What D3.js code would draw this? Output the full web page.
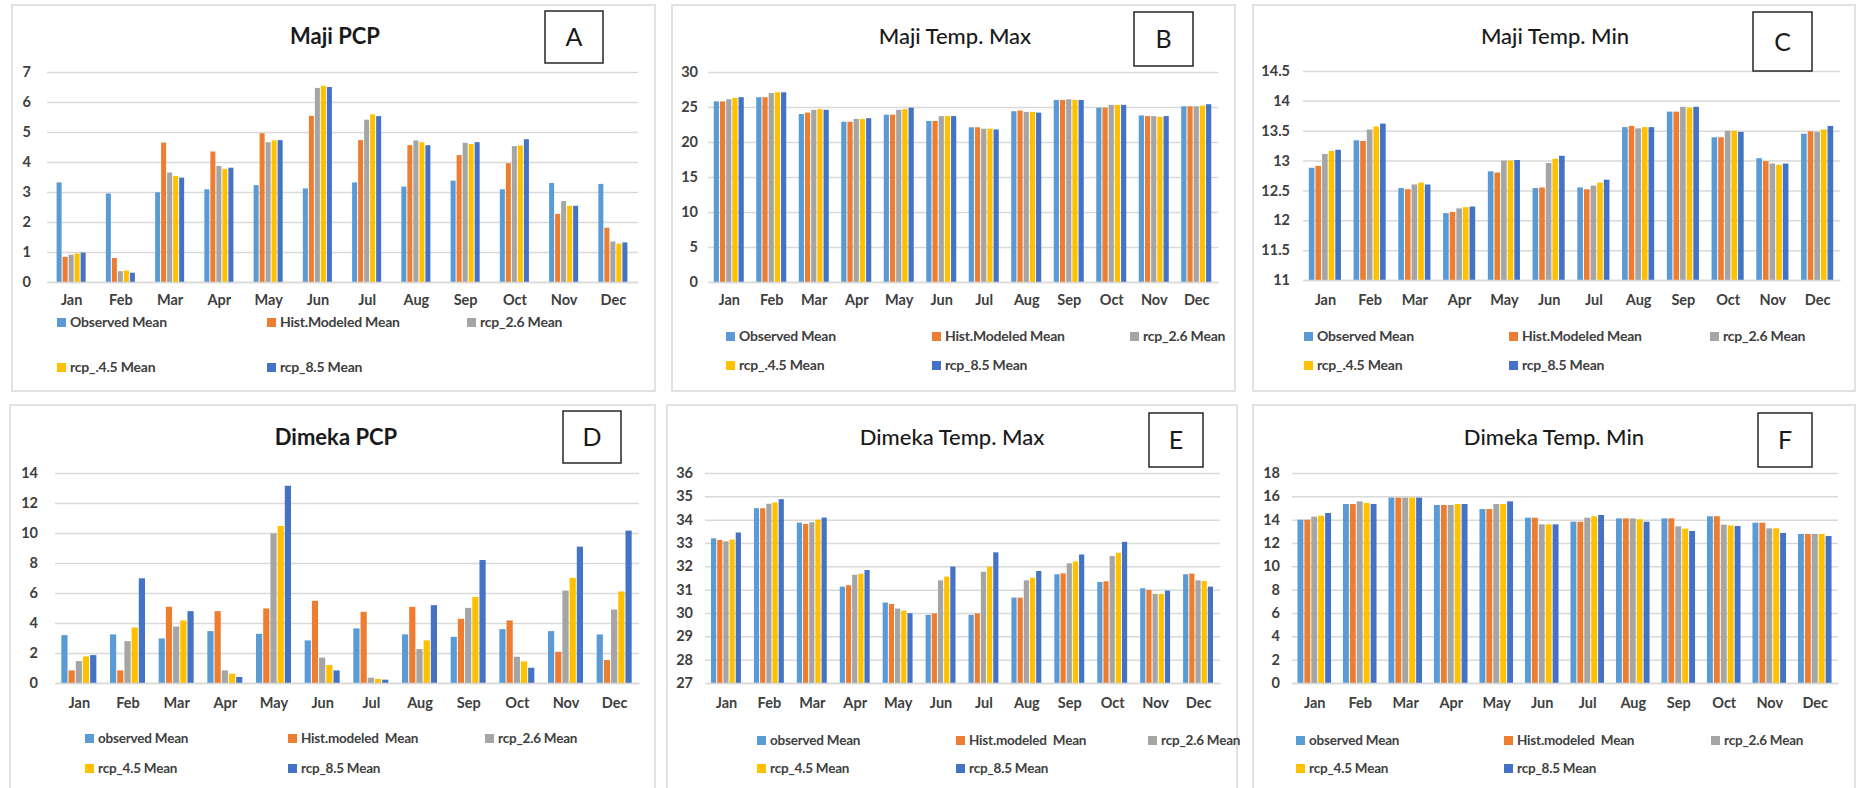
<!DOCTYPE html>
<html>
<head>
<meta charset="utf-8">
<script src="https://cdn.jsdelivr.net/npm/d3@7"></script>
<style>
  body { margin: 0; background: #fff; }
  svg { display: block; font-family: Lato, "Open Sans", sans-serif; }
</style>
</head>
<body>
<svg width="1856" height="788"></svg>
<script>
// month categories and series names
var months = ["Jan", "Feb", "Mar", "Apr", "May", "Jun", "Jul", "Aug", "Sep", "Oct", "Nov", "Dec"];
var namesTop = ["Observed Mean", "Hist.Modeled Mean", "rcp_2.6 Mean", "rcp_.4.5 Mean", "rcp_8.5 Mean"];
var namesBottom = ["observed Mean", "Hist.modeled  Mean", "rcp_2.6 Mean", "rcp_4.5 Mean", "rcp_8.5 Mean"];
var colors = ["#5b9bd5", "#ed7d31", "#a5a5a5", "#ffc000", "#4472c4"];

// rows: observed, hist, rcp2.6, rcp4.5, rcp8.5
var majiPcp = [
  [3.32, 2.95, 2.99, 3.09, 3.23, 3.12, 3.32, 3.18, 3.38, 3.09, 3.30, 3.27],
  [0.84, 0.80, 4.65, 4.35, 4.96, 5.54, 4.73, 4.56, 4.23, 3.96, 2.27, 1.81],
  [0.91, 0.36, 3.65, 3.87, 4.66, 6.47, 5.41, 4.72, 4.64, 4.53, 2.70, 1.35],
  [0.95, 0.38, 3.53, 3.77, 4.72, 6.54, 5.59, 4.66, 4.60, 4.55, 2.54, 1.28],
  [0.98, 0.31, 3.48, 3.81, 4.73, 6.50, 5.53, 4.56, 4.66, 4.76, 2.54, 1.32]
];
var majiTmax = [
  [25.8, 26.4, 24.0, 22.9, 23.9, 23.0, 22.1, 24.4, 26.0, 24.9, 23.8, 25.1],
  [25.8, 26.4, 24.2, 22.9, 23.9, 23.0, 22.1, 24.5, 26.0, 24.9, 23.7, 25.1],
  [26.1, 27.0, 24.6, 23.3, 24.6, 23.7, 21.9, 24.3, 26.1, 25.3, 23.7, 25.1],
  [26.3, 27.1, 24.7, 23.3, 24.7, 23.7, 21.9, 24.3, 26.0, 25.3, 23.6, 25.2],
  [26.4, 27.1, 24.6, 23.4, 24.9, 23.7, 21.8, 24.2, 26.0, 25.3, 23.7, 25.4]
];
var majiTmin = [
  [12.88, 13.34, 12.54, 12.12, 12.82, 12.54, 12.55, 13.56, 13.82, 13.39, 13.04, 13.45],
  [12.91, 13.33, 12.52, 12.14, 12.80, 12.55, 12.52, 13.58, 13.82, 13.39, 12.99, 13.49],
  [13.11, 13.52, 12.60, 12.20, 13.00, 12.96, 12.58, 13.54, 13.90, 13.50, 12.95, 13.48],
  [13.16, 13.57, 12.63, 12.22, 13.00, 13.03, 12.63, 13.56, 13.89, 13.50, 12.93, 13.52],
  [13.18, 13.62, 12.60, 12.23, 13.01, 13.08, 12.68, 13.56, 13.90, 13.48, 12.95, 13.58]
];
var dimekaPcp = [
  [3.19, 3.24, 2.97, 3.46, 3.28, 2.84, 3.64, 3.24, 3.08, 3.59, 3.46, 3.24],
  [0.84, 0.84, 5.08, 4.79, 4.97, 5.48, 4.75, 5.08, 4.28, 4.17, 2.08, 1.53],
  [1.46, 2.79, 3.77, 0.84, 9.98, 1.69, 0.35, 2.26, 5.01, 1.75, 6.16, 4.90],
  [1.77, 3.70, 4.17, 0.62, 10.47, 1.20, 0.27, 2.84, 5.74, 1.44, 7.01, 6.10],
  [1.86, 6.98, 4.79, 0.40, 13.15, 0.84, 0.22, 5.19, 8.20, 1.02, 9.09, 10.16]
];
var dimekaTmax = [
  [33.20, 34.49, 33.87, 31.13, 30.45, 29.92, 29.92, 30.66, 31.66, 31.33, 31.06, 31.66],
  [33.13, 34.49, 33.82, 31.19, 30.39, 29.98, 29.98, 30.66, 31.70, 31.36, 30.99, 31.69],
  [33.07, 34.68, 33.89, 31.64, 30.19, 31.40, 31.77, 31.40, 32.13, 32.44, 30.82, 31.40],
  [33.15, 34.74, 34.00, 31.68, 30.10, 31.56, 31.98, 31.51, 32.21, 32.58, 30.82, 31.37],
  [33.45, 34.88, 34.09, 31.84, 29.99, 31.99, 32.60, 31.80, 32.51, 33.05, 30.96, 31.13]
];
var dimekaTmin = [
  [14.00, 15.34, 15.89, 15.26, 14.91, 14.17, 13.83, 14.11, 14.11, 14.29, 13.74, 12.77],
  [14.00, 15.34, 15.89, 15.26, 14.91, 14.17, 13.83, 14.11, 14.11, 14.29, 13.74, 12.77],
  [14.26, 15.57, 15.89, 15.26, 15.34, 13.60, 14.17, 14.11, 13.43, 13.57, 13.26, 12.77],
  [14.34, 15.43, 15.89, 15.34, 15.34, 13.60, 14.29, 14.03, 13.23, 13.51, 13.26, 12.77],
  [14.57, 15.34, 15.89, 15.34, 15.57, 13.60, 14.40, 13.83, 13.03, 13.46, 12.86, 12.60]
];

var majiPcpTicks = [0, 1, 2, 3, 4, 5, 6, 7];
var majiTmaxTicks = [0, 5, 10, 15, 20, 25, 30];
var majiTminTicks = [11, 11.5, 12, 12.5, 13, 13.5, 14, 14.5];
var dimekaPcpTicks = [0, 2, 4, 6, 8, 10, 12, 14];
var dimekaTmaxTicks = [27, 28, 29, 30, 31, 32, 33, 34, 35, 36];
var dimekaTminTicks = [0, 2, 4, 6, 8, 10, 12, 14, 16, 18];

var svg = d3.select("svg");

var panels = [
  { tag: "A", title: "Maji PCP", bold: true, data: majiPcp, ticks: majiPcpTicks, names: namesTop,
    frame: [12, 5, 643, 386], plot: [47, 638, 72, 282], inner: 0.39, tickGap: 16,
    titleX: 335, titleY: 44, box: [545, 11, 58, 52], monthY: 307, legFont: 14,
    legX: [57, 267, 467], legY: [323, 368] },
  { tag: "B", title: "Maji Temp. Max", bold: false, data: majiTmax, ticks: majiTmaxTicks, names: namesTop,
    frame: [672, 5, 563, 386], plot: [708, 1218, 72, 282], inner: 0.27, tickGap: 10,
    titleX: 955, titleY: 44, box: [1134, 12, 59, 54], monthY: 307, legFont: 14,
    legX: [726, 932, 1130], legY: [337, 366] },
  { tag: "C", title: "Maji Temp. Min", bold: false, data: majiTmin, ticks: majiTminTicks, names: namesTop,
    frame: [1253, 5, 602, 386], plot: [1303, 1840, 71, 280], inner: 0.26, tickGap: 13,
    titleX: 1555, titleY: 44, box: [1753, 12, 59, 59], monthY: 307, legFont: 14,
    legX: [1304, 1509, 1710], legY: [337, 366] },
  { tag: "D", title: "Dimeka PCP", bold: true, data: dimekaPcp, ticks: dimekaPcpTicks, names: namesBottom,
    frame: [10, 405, 645, 390], plot: [55, 639, 473, 683], inner: 0.26, tickGap: 17,
    titleX: 336, titleY: 445, box: [563, 411, 58, 52], monthY: 710, legFont: 13.5,
    legX: [85, 288, 485], legY: [739, 769] },
  { tag: "E", title: "Dimeka Temp. Max", bold: false, data: dimekaTmax, ticks: dimekaTmaxTicks, names: namesBottom,
    frame: [667, 405, 570, 390], plot: [705, 1220, 473, 683], inner: 0.28, tickGap: 12,
    titleX: 952, titleY: 445, box: [1149, 413, 54, 54], monthY: 710, legFont: 13.5,
    legX: [757, 956, 1148], legY: [741, 769] },
  { tag: "F", title: "Dimeka Temp. Min", bold: false, data: dimekaTmin, ticks: dimekaTminTicks, names: namesBottom,
    frame: [1253, 405, 602, 390], plot: [1292, 1838, 473, 683], inner: 0.24, tickGap: 12,
    titleX: 1554, titleY: 445, box: [1758, 413, 54, 54], monthY: 710, legFont: 13.5,
    legX: [1296, 1504, 1711], legY: [741, 769] }
];

panels.forEach(drawPanel);

function drawPanel(p) {
    var g = svg.append("g");

    g.append("rect")
        .attr("x", p.frame[0]).attr("y", p.frame[1])
        .attr("width", p.frame[2]).attr("height", p.frame[3])
        .attr("fill", "#fff").attr("stroke", "#d9d9d9").attr("stroke-width", 1.5);

    var x = d3.scaleBand().domain(months).range([p.plot[0], p.plot[1]]).paddingInner(p.inner).paddingOuter(p.inner / 2);
    var x1 = d3.scaleBand().domain(d3.range(5)).range([0, x.bandwidth()]);
    var y = d3.scaleLinear()
        .domain([p.ticks[0], p.ticks[p.ticks.length - 1]])
        .range([p.plot[3], p.plot[2]]);

    // gridlines + y labels
    var yAxis = d3.axisLeft(y).tickValues(p.ticks).tickFormat(d3.format("~g"))
        .tickSize(-(p.plot[1] - p.plot[0])).tickPadding(p.tickGap);
    var ya = g.append("g")
        .attr("transform", "translate(" + p.plot[0] + ",0)")
        .call(yAxis);
    ya.select(".domain").remove();
    ya.selectAll(".tick line").attr("stroke", "#d9d9d9").attr("stroke-width", 1.5);
    ya.selectAll(".tick text")
        .attr("fill", "#404040").attr("font-size", 14.5).attr("font-weight", 700)
        .attr("font-family", "Lato, sans-serif");

    // bars
    p.data.forEach(function(series, si) {
        g.selectAll(".bar" + si)
            .data(series)
            .enter().append("rect")
            .attr("x", function(d, i) { return x(months[i]) + x1(si); })
            .attr("y", function(d) { return y(d); })
            .attr("width", Math.max(1, x1.bandwidth() - 1))
            .attr("height", function(d) { return p.plot[3] - y(d); })
            .attr("fill", colors[si]);
    });

    // month labels
    var xa = g.append("g")
        .attr("transform", "translate(0," + p.plot[3] + ")")
        .call(d3.axisBottom(x).tickSize(0).tickPadding(p.monthY - p.plot[3] - 12));
    xa.select(".domain").attr("stroke", "#d9d9d9").attr("stroke-width", 1.5);
    xa.selectAll(".tick text")
        .attr("fill", "#404040").attr("font-size", 14.5).attr("font-weight", 700)
        .attr("font-family", "Lato, sans-serif");

    // title
    g.append("text")
        .attr("x", p.titleX).attr("y", p.titleY)
        .attr("text-anchor", "middle")
        .attr("font-size", 22)
        .attr("font-weight", p.bold ? 700 : 500)
        .attr("fill", "#1a1a1a")
        .text(p.title);

    // panel letter box
    g.append("rect")
        .attr("x", p.box[0]).attr("y", p.box[1])
        .attr("width", p.box[2]).attr("height", p.box[3])
        .attr("fill", "#fff").attr("stroke", "#262626").attr("stroke-width", 1.5);
    g.append("text")
        .attr("x", p.box[0] + p.box[2] / 2).attr("y", p.box[1] + p.box[3] / 2 + 9)
        .attr("text-anchor", "middle")
        .attr("font-size", 25)
        .attr("fill", "#1a1a1a")
        .text(p.tag);

    // legend, 3 per row
    p.names.forEach(function(name, i) {
        var lx = p.legX[i % 3], ly = p.legY[Math.floor(i / 3)];
        g.append("rect")
            .attr("x", lx).attr("y", ly - 5)
            .attr("width", 9).attr("height", 9)
            .attr("fill", colors[i]);
        g.append("text")
            .attr("x", lx + 13).attr("y", ly + 4)
            .attr("font-size", p.legFont).attr("font-weight", 700)
            .attr("fill", "#404040")
            .attr("letter-spacing", -0.2)
            .style("white-space", "pre")
            .text(name);
    });
}
</script>
</body>
</html>
